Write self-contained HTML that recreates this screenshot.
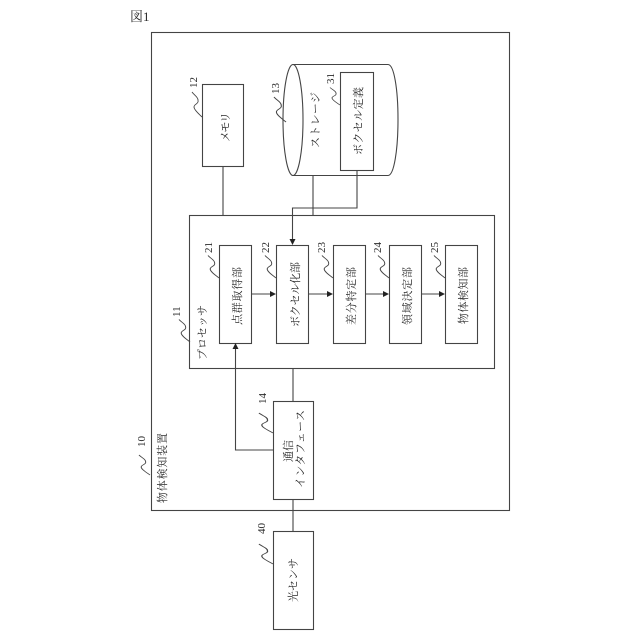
<!DOCTYPE html>
<html>
<head>
<meta charset="utf-8">
<style>
html,body{margin:0;padding:0;background:#fff;width:640px;height:640px;overflow:hidden}
svg{display:block}
text{font-family:"Liberation Serif","Noto Serif CJK SC",serif;fill:#2a2a2a;font-size:11px}
.r{fill:#fff;stroke:#444;stroke-width:1.1}
.l{fill:none;stroke:#444;stroke-width:1.1}
.s{fill:none;stroke:#444;stroke-width:.9}
</style>
</head>
<body>
<svg width="640" height="640" viewBox="0 0 640 640" xmlns="http://www.w3.org/2000/svg">
<defs>
<path id="q" d="M0 0C-3 -3 -8 -7 -8 -10C-8 -13 -3 -13 -4 -17C-4 -20 -8 -22 -10 -25"/>
</defs>

<text x="130" y="21" style="font-size:13px">図1</text>

<!-- outer -->
<rect class="r" x="151.500" y="32.500" width="358" height="478"/>

<!-- memory -->
<rect class="r" x="202.500" y="84.500" width="41" height="82"/>

<!-- storage -->
<path class="r" d="M293 64.500H388C394 64.500 398 89 398 119.500C398 150 394 175.500 388 175.500H293Z"/>
<ellipse class="r" cx="293" cy="120" rx="10" ry="55.500"/>
<rect class="r" x="340.500" y="72.500" width="33" height="98"/>

<!-- processor -->
<rect class="r" x="189.500" y="215.500" width="305" height="153"/>
<rect class="r" x="219.500" y="245.500" width="32" height="98"/>
<rect class="r" x="276.500" y="245.500" width="32" height="98"/>
<rect class="r" x="333.500" y="245.500" width="32" height="98"/>
<rect class="r" x="389.500" y="245.500" width="32" height="98"/>
<rect class="r" x="445.500" y="245.500" width="32" height="98"/>

<!-- comm & sensor -->
<rect class="r" x="273.500" y="401.500" width="40" height="98"/>
<rect class="r" x="273.500" y="531.500" width="40" height="98"/>

<!-- connectors -->
<path class="l" d="M223 166.500V215M313 175.500V215M357 171V208H292.500V240M293 369V401M293 499.500V531M273 450H235.500V349"/>
<path class="l" d="M252 294H271M309 294H328M366 294H384M422 294H440"/>
<path fill="#222" d="M276 294l-6 -3v6zM333 294l-6 -3v6zM389 294l-6 -3v6zM445 294l-6 -3v6z"/>
<path fill="#222" d="M292.500 245l-3 -6h6zM235.500 343l-3 6h6z"/>

<!-- squiggles -->
<use href="#q" class="s" transform="translate(202,117)"/>
<use href="#q" class="s" transform="translate(286,122) scale(1.2,1)"/>
<use href="#q" class="s" transform="translate(340,105) scale(1,.7)"/>
<use href="#q" class="s" transform="translate(219,278) scale(1.1,.9)"/>
<use href="#q" class="s" transform="translate(276,278) scale(1.1,.9)"/>
<use href="#q" class="s" transform="translate(333,278) scale(1.1,.9)"/>
<use href="#q" class="s" transform="translate(389,278) scale(1.1,.9)"/>
<use href="#q" class="s" transform="translate(445,278) scale(1.1,.9)"/>
<use href="#q" class="s" transform="translate(190,342) scale(1.1,.9)"/>
<use href="#q" class="s" transform="translate(273,433) scale(1.4,.8)"/>
<use href="#q" class="s" transform="translate(273,564) scale(1.4,.8)"/>
<use href="#q" class="s" transform="translate(150,475) scale(1.1,.8)"/>

<!-- labels -->
<text transform="translate(229,142) rotate(-90)" textLength="30" lengthAdjust="spacing">メモリ</text>
<text transform="translate(319,148) rotate(-90)" textLength="56" lengthAdjust="spacing">ストレージ</text>
<text transform="translate(362,155) rotate(-90)" textLength="68" lengthAdjust="spacing">ボクセル定義</text>
<text transform="translate(241,325) rotate(-90)" textLength="58" lengthAdjust="spacing">点群取得部</text>
<text transform="translate(299,327) rotate(-90)" textLength="65" lengthAdjust="spacing">ボクセル化部</text>
<text transform="translate(355,325) rotate(-90)" textLength="58" lengthAdjust="spacing">差分特定部</text>
<text transform="translate(411,325) rotate(-90)" textLength="58" lengthAdjust="spacing">領域決定部</text>
<text transform="translate(467,324) rotate(-90)" textLength="57" lengthAdjust="spacing">物体検知部</text>
<text transform="translate(206,360) rotate(-90)" textLength="55" lengthAdjust="spacing">プロセッサ</text>
<text transform="translate(166,503) rotate(-90)" textLength="70" lengthAdjust="spacing">物体検知装置</text>
<text transform="translate(292,462) rotate(-90)" textLength="22" lengthAdjust="spacing">通信</text>
<text transform="translate(304,488) rotate(-90)" textLength="78" lengthAdjust="spacing">インタフェース</text>
<text transform="translate(297,602) rotate(-90)" textLength="44" lengthAdjust="spacing">光センサ</text>

<!-- numbers -->
<text transform="translate(197,88) rotate(-90)">12</text>
<text transform="translate(279,94) rotate(-90)">13</text>
<text transform="translate(334,84) rotate(-90)">31</text>
<text transform="translate(212,253) rotate(-90)">21</text>
<text transform="translate(269,253) rotate(-90)">22</text>
<text transform="translate(325,253) rotate(-90)">23</text>
<text transform="translate(381,253) rotate(-90)">24</text>
<text transform="translate(438,253) rotate(-90)">25</text>
<text transform="translate(180,317) rotate(-90)">11</text>
<text transform="translate(266,404) rotate(-90)">14</text>
<text transform="translate(265,534) rotate(-90)">40</text>
<text transform="translate(145,447) rotate(-90)">10</text>
</svg>
</body>
</html>
